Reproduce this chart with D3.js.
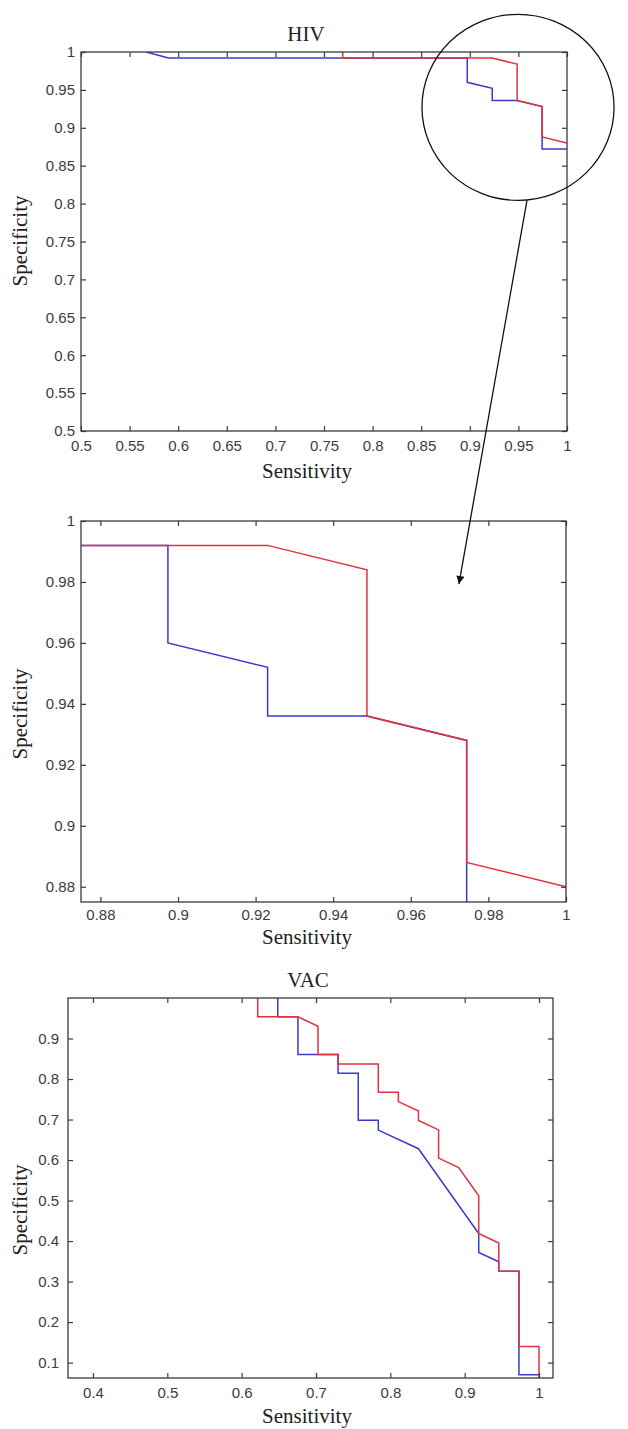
<!DOCTYPE html>
<html><head><meta charset="utf-8">
<script src="https://cdn.jsdelivr.net/npm/d3@7"></script>
<style>
html,body{margin:0;padding:0;background:#fff;}
svg{display:block;}
</style></head>
<body>
<svg id="c" width="628" height="1429"></svg>
<script>
// ---------- DATA ----------
// HIV ROC curves (sensitivity, specificity)
const hivBlueSens = [0.567, 0.590, 0.8974, 0.8974, 0.9231, 0.9231, 0.9487, 0.9744, 0.9744, 1.0];
const hivBlueSpec = [1.0,   0.992, 0.992,  0.960,  0.952,  0.936,  0.936,  0.928,  0.872,  0.872];
const hivRedSens  = [0.7692, 0.7692, 0.9231, 0.9487, 0.9487, 0.9744, 0.9744, 1.0];
const hivRedSpec  = [1.0,    0.992,  0.992,  0.984,  0.936,  0.928,  0.888,  0.880];
// VAC ROC curves
const vacBlueSens = [0.6486, 0.6486, 0.6757, 0.6757, 0.7027, 0.7297, 0.7297, 0.7568, 0.7568, 0.7838, 0.7838, 0.8378, 0.9189, 0.9189, 0.9459, 0.9459, 0.973, 0.973, 1.0];
const vacBlueSpec = [1.0,    0.9535, 0.9535, 0.8605, 0.8605, 0.8605, 0.814,  0.814,  0.698,  0.698,  0.674,  0.628,  0.4186, 0.372,  0.349,  0.3256, 0.3256, 0.0698, 0.0698];
const vacRedSens  = [0.6216, 0.6216, 0.6757, 0.7027, 0.7027, 0.7297, 0.7297, 0.7838, 0.7838, 0.8108, 0.8108, 0.8378, 0.8378, 0.8649, 0.8649, 0.8919, 0.9189, 0.9189, 0.9459, 0.9459, 0.973, 0.973, 1.0, 1.0];
const vacRedSpec  = [1.0,    0.9535, 0.9535, 0.9302, 0.8605, 0.8605, 0.8372, 0.8372, 0.7674, 0.7674, 0.7442, 0.7209, 0.6977, 0.6744, 0.6047, 0.5814, 0.5116, 0.4186, 0.3953, 0.3256, 0.3256, 0.1395, 0.1395, 0.0];

// Tick labels
const hivTicks  = [0.5, 0.55, 0.6, 0.65, 0.7, 0.75, 0.8, 0.85, 0.9, 0.95, 1];
const zoomTicks = [0.88, 0.9, 0.92, 0.94, 0.96, 0.98, 1];
const vacXTicks = [0.4, 0.5, 0.6, 0.7, 0.8, 0.9, 1];
const vacYTicks = [0.1, 0.2, 0.3, 0.4, 0.5, 0.6, 0.7, 0.8, 0.9];

// Axis limits
const hivDomain  = [0.5, 1];
const zoomDomain = [0.875, 1];
const vacXDomain = [0.3664, 1.0188];
const vacYDomain = [0.062, 1];

// Annotation (zoom circle in HIV data units, arrow from HIV plot to zoom plot)
const circleCenter = [0.9496, 0.927];
const circleRadius = [0.0988, 0.1227];
const arrowFrom = [0.9588, 0.804];   // HIV coords
const arrowTo   = [0.9724, 0.9793];  // zoom plot coords

// ---------- DRAWING ----------
const svg = d3.select("#c");
const BLUE = "#3a3acc", RED = "#e2323e", AX = "#3a3a3a";
const sansF = "'Liberation Sans', Arial, sans-serif";
const serifF = "'Liberation Serif', 'Times New Roman', serif";

function panel(cfg){
  const x = d3.scaleLinear().domain(cfg.xd).range([cfg.l, cfg.r]);
  const y = d3.scaleLinear().domain(cfg.yd).range([cfg.b, cfg.t]);
  const g = svg.append("g");
  const id = "clip" + cfg.name;
  svg.append("defs").append("clipPath").attr("id", id)
     .append("rect").attr("x", cfg.l).attr("y", cfg.t)
     .attr("width", cfg.r - cfg.l).attr("height", cfg.b - cfg.t);

  const line = d3.line().x(d => x(d[0])).y(d => y(d[1]));
  const lg = g.append("g").attr("clip-path", `url(#${id})`);
  cfg.series.forEach(s => {
    const pts = s.sens.map((v, i) => [v, s.spec[i]]);
    lg.append("path").datum(pts).attr("d", line)
      .attr("fill", "none").attr("stroke", s.color).attr("stroke-width", 1.5);
  });

  const styleAxis = sel => {
    sel.select(".domain").remove();
    sel.selectAll(".tick line").attr("stroke", AX).attr("stroke-width", 1.2);
    sel.selectAll(".tick text").attr("fill", "#3c3c3c").attr("font-family", sansF).attr("font-size", 15);
  };
  const fmt = d3.format("~g");
  g.append("g").attr("transform", `translate(0,${cfg.b})`)
    .call(d3.axisBottom(x).tickValues(cfg.xt).tickFormat(fmt).tickSize(-5).tickPadding(cfg.xpad))
    .call(styleAxis);
  g.append("g").attr("transform", `translate(0,${cfg.t})`)
    .call(d3.axisTop(x).tickValues(cfg.xt).tickFormat("").tickSize(-5))
    .call(styleAxis);
  g.append("g").attr("transform", `translate(${cfg.l},0)`)
    .call(d3.axisLeft(y).tickValues(cfg.yt).tickFormat(fmt).tickSize(-5).tickPadding(cfg.ypad))
    .call(styleAxis);
  g.append("g").attr("transform", `translate(${cfg.r},0)`)
    .call(d3.axisRight(y).tickValues(cfg.yt).tickFormat("").tickSize(-5))
    .call(styleAxis);

  g.append("rect").attr("x", cfg.l).attr("y", cfg.t)
    .attr("width", cfg.r - cfg.l).attr("height", cfg.b - cfg.t)
    .attr("fill", "none").attr("stroke", AX).attr("stroke-width", 1.3);

  g.append("text").attr("x", 307).attr("y", cfg.xlabY).attr("text-anchor", "middle")
    .attr("dominant-baseline", "central")
    .attr("font-family", serifF).attr("font-size", 21).attr("fill", "#222").text("Sensitivity");
  g.append("text").attr("transform", `translate(20,${cfg.ylabY}) rotate(-90)`)
    .attr("text-anchor", "middle").attr("dominant-baseline", "central")
    .attr("font-family", serifF).attr("font-size", 21).attr("fill", "#222").text("Specificity");
  if (cfg.title) {
    g.append("text").attr("x", cfg.titleX).attr("y", cfg.titleY).attr("text-anchor", "middle")
      .attr("dominant-baseline", "central")
      .attr("font-family", serifF).attr("font-size", 21).attr("fill", "#222").text(cfg.title);
  }
  return {x, y};
}

const pHiv = panel({name:"hiv", l:81, r:567, t:52, b:431, xd:hivDomain, yd:hivDomain,
  xt:hivTicks, yt:hivTicks, xpad:9, ypad:6, xlabY:471, ylabY:241, title:"HIV", titleX:306, titleY:34,
  series:[{sens:hivBlueSens, spec:hivBlueSpec, color:BLUE},{sens:hivRedSens, spec:hivRedSpec, color:RED}]});

const pZoom = panel({name:"zoom", l:81, r:566, t:521, b:902, xd:zoomDomain, yd:zoomDomain,
  xt:zoomTicks, yt:zoomTicks, xpad:7, ypad:6, xlabY:937, ylabY:714,
  series:[{sens:hivBlueSens, spec:hivBlueSpec, color:BLUE},{sens:hivRedSens, spec:hivRedSpec, color:RED}]});

const pVac = panel({name:"vac", l:68, r:553, t:998, b:1378, xd:vacXDomain, yd:vacYDomain,
  xt:vacXTicks, yt:vacYTicks, xpad:9, ypad:9, xlabY:1416, ylabY:1210, title:"VAC", titleX:308, titleY:980,
  series:[{sens:vacBlueSens, spec:vacBlueSpec, color:BLUE},{sens:vacRedSens, spec:vacRedSpec, color:RED}]});

// Annotation circle
const cx = pHiv.x(circleCenter[0]), cy = pHiv.y(circleCenter[1]);
const rx = pHiv.x(circleCenter[0] + circleRadius[0]) - cx;
const ry = cy - pHiv.y(circleCenter[1] + circleRadius[1]);
svg.append("ellipse").attr("cx", cx).attr("cy", cy).attr("rx", rx).attr("ry", ry)
  .attr("fill", "none").attr("stroke", "#111").attr("stroke-width", 1.3);

// Arrow
svg.append("defs").append("marker").attr("id", "ah").attr("viewBox", "0 0 10 10")
  .attr("refX", 10).attr("refY", 5).attr("markerWidth", 10).attr("markerHeight", 8)
  .attr("markerUnits", "userSpaceOnUse").attr("orient", "auto")
  .append("path").attr("d", "M0,0 L10,5 L0,10 Z").attr("fill", "#111");
svg.append("line")
  .attr("x1", pHiv.x(arrowFrom[0])).attr("y1", pHiv.y(arrowFrom[1]))
  .attr("x2", pZoom.x(arrowTo[0])).attr("y2", pZoom.y(arrowTo[1]))
  .attr("stroke", "#111").attr("stroke-width", 1.3).attr("marker-end", "url(#ah)");
</script>
</body></html>
